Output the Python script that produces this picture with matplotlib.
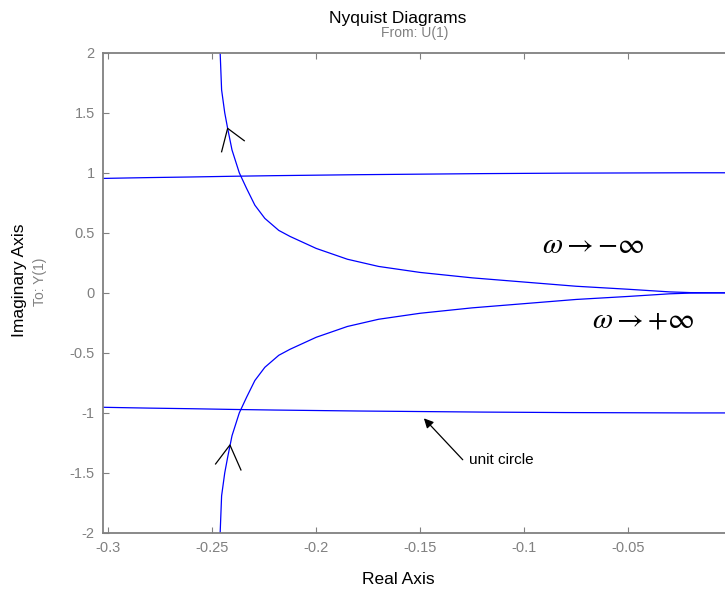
import matplotlib
matplotlib.use('Agg')
import matplotlib.pyplot as plt
import numpy as np

# nyquist curve, upper branch; lower branch is its mirror
nyq_re = [-0.2462, -0.2455, -0.2440, -0.2426, -0.2405, -0.2370, -0.2335, -0.2295,
          -0.2247, -0.2180, -0.2126, -0.2000, -0.1850, -0.1700, -0.1500, -0.1250,
          -0.1000, -0.0750, -0.0500, -0.0300, -0.0200, 0.0]
nyq_im = [2.0, 1.69, 1.50, 1.37, 1.19, 1.0, 0.87, 0.73,
          0.62, 0.52, 0.47, 0.37, 0.28, 0.22, 0.17, 0.125,
          0.09, 0.055, 0.03, 0.008, 0.002, 0.0]

# unit circle part visible in the window
uc_re = [-0.3025, -0.29, -0.28, -0.26, -0.24, -0.22, -0.20, -0.18, -0.16,
         -0.14, -0.12, -0.10, -0.08, -0.06, -0.04, -0.02, 0.0]
uc_im = [0.953, 0.957, 0.960, 0.965, 0.971, 0.976, 0.980, 0.984, 0.987,
         0.990, 0.993, 0.995, 0.997, 0.998, 0.999, 1.0, 1.0]

# direction chevrons: (left leg end, tip, right leg end)
arrow_up = [(-0.2455, 1.175), (-0.2426, 1.370), (-0.2346, 1.267)]
arrow_lo = [(-0.2484, -1.425), (-0.2415, -1.267), (-0.2362, -1.475)]

xticks = [-0.3, -0.25, -0.2, -0.15, -0.1, -0.05, 0]
xticklabels = ['-0.3', '-0.25', '-0.2', '-0.15', '-0.1', '-0.05', '']
yticks = [-2, -1.5, -1, -0.5, 0, 0.5, 1, 1.5, 2]
yticklabels = ['-2', '-1.5', '-1', '-0.5', '0', '0.5', '1', '1.5', '2']

plt.rcParams['font.family'] = ['Liberation Sans', 'DejaVu Sans']
plt.rcParams['mathtext.fontset'] = 'stix'

W, H = 725, 593
fig = plt.figure(figsize=(W / 100, H / 100), dpi=100)
ax = fig.add_axes([103 / W, (H - 533) / H, (732 - 103) / W, (533 - 52.7) / H])

gray = '#808080'
blue = '#0000ff'

ax.plot(nyq_re, nyq_im, color=blue, lw=0.9)
ax.plot(nyq_re, [-v for v in nyq_im], color=blue, lw=0.9)
ax.plot(uc_re, uc_im, color=blue, lw=0.9)
ax.plot(uc_re, [-v for v in uc_im], color=blue, lw=0.9)

for chev in (arrow_up, arrow_lo):
    ax.plot([p[0] for p in chev], [p[1] for p in chev], color='black', lw=0.9)

ax.annotate('unit circle', xy=(-0.1482, -1.045), xytext=(-0.1264, -1.39),
            fontsize=11, va='center', ha='left',
            arrowprops=dict(arrowstyle='-|>', color='black', lw=0.9,
                            mutation_scale=14, shrinkA=0, shrinkB=0,
                            relpos=(-0.1, 0.5)))

ax.text(-0.0912, 0.398, r'$\omega \rightarrow {-}\infty$', fontsize=21,
        va='center', ha='left')
ax.text(-0.0673, -0.218, r'$\omega \rightarrow {+}\infty$', fontsize=21,
        va='center', ha='left')

ax.set_xlim(-0.30255, 0.0)
ax.set_ylim(-2, 2)
ax.set_xticks(xticks)
ax.set_xticklabels(xticklabels)
ax.set_yticks(yticks)
ax.set_yticklabels(yticklabels)
ax.tick_params(direction='in', length=4, width=0.8, colors=gray,
               labelsize=10.5, top=True, right=True, pad=6)
for sp in ax.spines.values():
    sp.set_color(gray)
    sp.set_linewidth(1.3)

fig.text(398 / W, 1 - 18 / H, 'Nyquist Diagrams', fontsize=12.5, ha='center', va='center')
fig.text(415 / W, 1 - 33 / H, 'From: U(1)', fontsize=10, ha='center', va='center', color=gray)
fig.text(398 / W, 1 - 580 / H, 'Real Axis', fontsize=12.5, ha='center', va='center')
fig.text(20 / W, 1 - 280 / H, 'Imaginary Axis', fontsize=12.5, ha='center', va='center',
         rotation=90)
fig.text(40 / W, 1 - 282 / H, 'To: Y(1)', fontsize=10, ha='center', va='center',
         rotation=90, color=gray)

fig.savefig('out.png', dpi=100)
